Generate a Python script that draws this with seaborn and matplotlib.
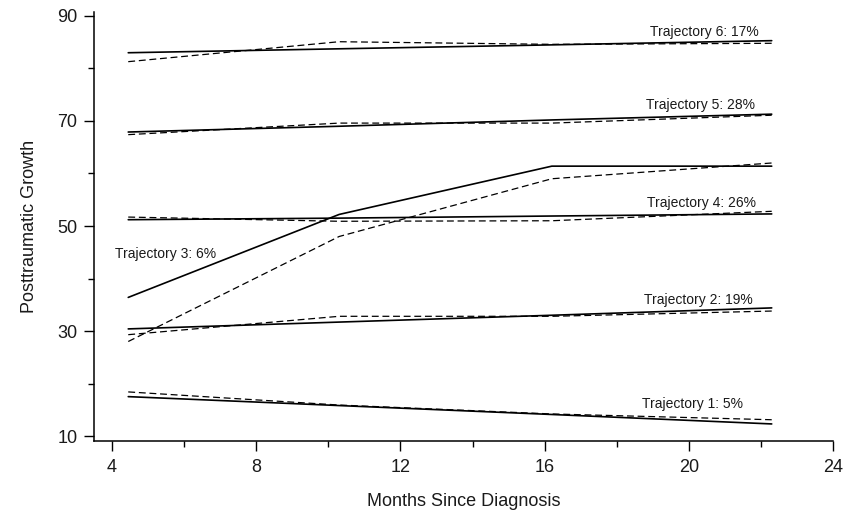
import numpy as np
import pandas as pd
import matplotlib
matplotlib.use("Agg")
import matplotlib.pyplot as plt
import seaborn as sns

# data
months = [4.45, 10.3, 16.2, 22.3]

est_t1 = [17.5, 15.8, 14.1, 12.3]
est_t2 = [30.4, 31.7, 33.0, 34.4]
est_t3 = [36.4, 52.2, 61.4, 61.4]
est_t4 = [51.2, 51.5, 51.9, 52.3]
est_t5 = [67.9, 69.0, 70.2, 71.3]
est_t6 = [83.0, 83.75, 84.5, 85.3]

obs_t1 = [18.4, 15.9, 14.2, 13.1]
obs_t2 = [29.3, 32.8, 32.8, 33.8]
obs_t3 = [28.0, 48.0, 59.0, 62.0]
obs_t4 = [51.7, 50.9, 51.0, 52.8]
obs_t5 = [67.4, 69.6, 69.6, 71.1]
obs_t6 = [81.3, 85.1, 84.6, 84.8]

labels = ["Trajectory 1: 5%", "Trajectory 2: 19%", "Trajectory 3: 6%",
          "Trajectory 4: 26%", "Trajectory 5: 28%", "Trajectory 6: 17%"]
label_x = [21.5, 21.76, 4.08, 21.87, 21.84, 21.94]
label_y = [16.05, 36.0, 44.7, 54.4, 73.0, 86.95]

estimated = [est_t1, est_t2, est_t3, est_t4, est_t5, est_t6]
observed = [obs_t1, obs_t2, obs_t3, obs_t4, obs_t5, obs_t6]

rows = []
for k in range(6):
    for m, e, o in zip(months, estimated[k], observed[k]):
        rows.append({"traj": k + 1, "Months": m, "Value": e, "kind": "est"})
        rows.append({"traj": k + 1, "Months": m, "Value": o, "kind": "obs"})
df = pd.DataFrame(rows)

sns.set_theme(style="ticks")
plt.rcParams['font.family'] = ['Liberation Sans', 'DejaVu Sans']

fig = plt.figure(figsize=(8.58, 5.16), dpi=100)
ax = fig.add_axes([94 / 858, 1 - 441 / 516, (833 - 94) / 858, (441 - 12) / 516])

for k in range(6):
    sub = df[df["traj"] == k + 1]
    sns.lineplot(data=sub[sub["kind"] == "obs"], x="Months", y="Value", ax=ax,
                 color="black", linewidth=0.9, estimator=None,
                 linestyle=(0, (5.5, 3)))
    sns.lineplot(data=sub[sub["kind"] == "est"], x="Months", y="Value", ax=ax,
                 color="black", linewidth=1.2, estimator=None)

for i, txt in enumerate(labels):
    ha = "left" if i == 2 else "right"
    ax.text(label_x[i], label_y[i], txt, ha=ha, va="center", fontsize=10,
            color="#1a1a1a")

ax.set_xlim(3.5, 24)
ax.set_ylim(9.05, 90.76)
ax.set_xticks([4, 8, 12, 16, 20, 24])
ax.set_xticks([6, 10, 14, 18, 22], minor=True)
ax.set_yticks([10, 30, 50, 70, 90])
ax.set_yticks([20, 40, 60, 80], minor=True)

ax.tick_params(axis="both", which="major", length=7, width=1, labelsize=13,
               color="black", labelcolor="#1a1a1a")
ax.tick_params(axis="both", which="minor", length=4, width=1, color="black")
ax.tick_params(axis="x", which="major", pad=6)
ax.tick_params(axis="y", which="major", pad=5)

for s in ["top", "right"]:
    ax.spines[s].set_visible(False)
for s in ["left", "bottom"]:
    ax.spines[s].set_linewidth(1.1)
    ax.spines[s].set_color("black")

ax.set_xlabel("Months Since Diagnosis", fontsize=13, color="#1a1a1a", labelpad=12)
ax.set_ylabel("Posttraumatic Growth", fontsize=13, color="#1a1a1a", labelpad=14)

fig.savefig("out.png", dpi=100)
